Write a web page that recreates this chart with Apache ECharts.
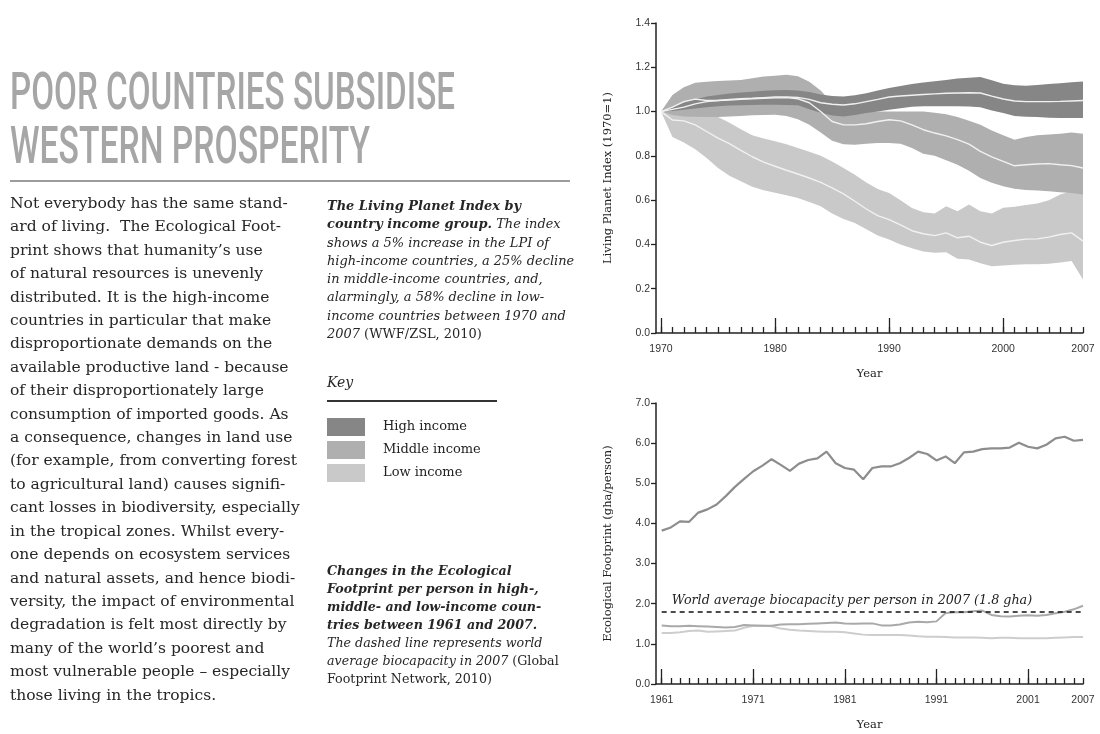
<!DOCTYPE html>
<html>
<head>
<meta charset="utf-8">
<title>Poor countries subsidise western prosperity</title>
<script src="https://cdn.jsdelivr.net/npm/echarts@6/dist/echarts.min.js"></script>
<style>
  html, body { margin: 0; padding: 0; background: #fff; }
  #page { position: relative; width: 1100px; height: 734px; overflow: hidden; }
  #chart { position: absolute; left: 0; top: 0; width: 1100px; height: 734px; }
  .txt { position: absolute; color: #262626; font-family: "DejaVu Serif", Georgia, serif; white-space: nowrap; pointer-events: none; }
  .txt .l { display: inline-block; }
  .up { font-style: normal; }
  #title { left: 10px; top: 65px; font-family: Roboto, "DejaVu Sans", sans-serif; font-weight: 500; font-size: 52px; line-height: 54px; color: #a6a6a6; }
  #title .tl { display: inline-block; transform-origin: 0 0; }
  #rule1 { position: absolute; left: 10px; top: 180px; width: 560px; height: 2px; background: #9c9c9c; }
  #body { left: 10px; top: 192px; font-size: 14.5px; line-height: 23.4px; }
  #cap1 { left: 327px; top: 197px; font-size: 12.5px; line-height: 18.3px; font-style: italic; }
  #cap2 { left: 327px; top: 562px; font-size: 12.5px; line-height: 18px; font-style: italic; }
  #key { left: 327px; top: 373px; font-size: 14px; line-height: 18px; font-style: italic; }
  #rule2 { position: absolute; left: 327px; top: 400px; width: 170px; height: 1.5px; background: #333; }
</style>
</head>
<body>
<div id="page">
  <div id="chart"></div>

  <div id="title" class="txt">
    <div><span class="tl">POOR COUNTRIES SUBSIDISE</span></div>
    <div><span class="tl">WESTERN PROSPERITY</span></div>
  </div>
  <div id="rule1"></div>

  <div id="body" class="txt">
    <div><span class="l">Not everybody has the same stand-</span></div>
    <div><span class="l">ard of living.&nbsp; The Ecological Foot-</span></div>
    <div><span class="l">print shows that humanity’s use</span></div>
    <div><span class="l">of natural resources is unevenly</span></div>
    <div><span class="l">distributed. It is the high-income</span></div>
    <div><span class="l">countries in particular that make</span></div>
    <div><span class="l">disproportionate demands on the</span></div>
    <div><span class="l">available productive land - because</span></div>
    <div><span class="l">of their disproportionately large</span></div>
    <div><span class="l">consumption of imported goods. As</span></div>
    <div><span class="l">a consequence, changes in land use</span></div>
    <div><span class="l">(for example, from converting forest</span></div>
    <div><span class="l">to agricultural land) causes signifi-</span></div>
    <div><span class="l">cant losses in biodiversity, especially</span></div>
    <div><span class="l">in the tropical zones. Whilst every-</span></div>
    <div><span class="l">one depends on ecosystem services</span></div>
    <div><span class="l">and natural assets, and hence biodi-</span></div>
    <div><span class="l">versity, the impact of environmental</span></div>
    <div><span class="l">degradation is felt most directly by</span></div>
    <div><span class="l">many of the world’s poorest and</span></div>
    <div><span class="l">most vulnerable people – especially</span></div>
    <div><span class="l">those living in the tropics.</span></div>
  </div>

  <div id="cap1" class="txt">
    <div><span class="l"><b>The Living Planet Index by</b></span></div>
    <div><span class="l"><b>country income group.</b> The index</span></div>
    <div><span class="l">shows a 5% increase in the LPI of</span></div>
    <div><span class="l">high-income countries, a 25% decline</span></div>
    <div><span class="l">in middle-income countries, and,</span></div>
    <div><span class="l">alarmingly, a 58% decline in low-</span></div>
    <div><span class="l">income countries between 1970 and</span></div>
    <div><span class="l">2007 <span class="up">(WWF/ZSL, 2010)</span></span></div>
  </div>

  <div id="key" class="txt">Key</div>
  <div id="rule2"></div>

  <div id="cap2" class="txt">
    <div><span class="l"><b>Changes in the Ecological</b></span></div>
    <div><span class="l"><b>Footprint per person in high-,</b></span></div>
    <div><span class="l"><b>middle- and low-income coun-</b></span></div>
    <div><span class="l"><b>tries between 1961 and 2007.</b></span></div>
    <div><span class="l">The dashed line represents world</span></div>
    <div><span class="l">average biocapacity in 2007 <span class="up">(Global</span></span></div>
    <div><span class="l"><span class="up">Footprint Network, 2010)</span></span></div>
  </div>
</div>

<script>
// Living Planet Index by income group, 1970 = 1 (lower bound, index, upper bound)
var lpiYears = [1970, 1971, 1972, 1973, 1974, 1975, 1976, 1977, 1978, 1979,
  1980, 1981, 1982, 1983, 1984, 1985, 1986, 1987, 1988, 1989,
  1990, 1991, 1992, 1993, 1994, 1995, 1996, 1997, 1998, 1999,
  2000, 2001, 2002, 2003, 2004, 2005, 2006, 2007];
var lpiMajorTicks = [1970, 1980, 1990, 2000];
var lpiTickLabels = [1970, 1980, 1990, 2000, 2007];

var highLower = [1.0, 1.003, 1.008, 1.014, 1.02, 1.024, 1.027, 1.029, 1.03, 1.031,
  1.031, 1.03, 1.028, 1.01, 0.995, 0.982, 0.978, 0.985, 0.994, 1.0,
  1.008, 1.015, 1.022, 1.024, 1.024, 1.024, 1.024, 1.023, 1.02, 1.005,
  0.994, 0.98, 0.977, 0.975, 0.972, 0.971, 0.971, 0.971];
var highIndex = [1.0, 1.01, 1.02, 1.035, 1.045, 1.05, 1.055, 1.058, 1.06, 1.063,
  1.066, 1.066, 1.064, 1.055, 1.04, 1.033, 1.03, 1.035, 1.045, 1.055,
  1.066, 1.07, 1.074, 1.077, 1.08, 1.083, 1.084, 1.085, 1.084, 1.07,
  1.057, 1.048, 1.045, 1.045, 1.045, 1.046, 1.048, 1.05];
var highUpper = [1.0, 1.02, 1.04, 1.055, 1.068, 1.075, 1.082, 1.086, 1.09, 1.094,
  1.096, 1.097, 1.095, 1.088, 1.077, 1.07, 1.068, 1.074, 1.083, 1.095,
  1.106, 1.115, 1.125, 1.131, 1.137, 1.143, 1.149, 1.153, 1.156, 1.142,
  1.126, 1.119, 1.117, 1.12, 1.124, 1.128, 1.132, 1.136];

var middleLower = [1.0, 0.985, 0.978, 0.977, 0.976, 0.976, 0.978, 0.98, 0.983, 0.985,
  0.986, 0.98, 0.965, 0.94, 0.905, 0.868, 0.852, 0.85, 0.855, 0.858,
  0.858, 0.855, 0.835, 0.81, 0.8, 0.78, 0.76, 0.733, 0.7, 0.678,
  0.663, 0.652, 0.646, 0.644, 0.64, 0.636, 0.632, 0.625];
var middleIndex = [1.0, 1.02, 1.045, 1.056, 1.05, 1.05, 1.052, 1.055, 1.058, 1.06,
  1.062, 1.063, 1.058, 1.04, 1.0, 0.955, 0.94, 0.94, 0.945, 0.955,
  0.963, 0.958, 0.94, 0.918, 0.903, 0.89, 0.873, 0.853, 0.82, 0.795,
  0.775, 0.755, 0.76, 0.763, 0.765, 0.76, 0.756, 0.745];
var middleUpper = [1.0, 1.075, 1.11, 1.13, 1.135, 1.138, 1.14, 1.143, 1.15, 1.158,
  1.162, 1.166, 1.16, 1.135, 1.095, 1.04, 1.0, 1.0, 1.0, 1.0,
  1.0, 1.0, 1.0, 1.0, 0.995, 0.988, 0.975, 0.958, 0.94, 0.915,
  0.893, 0.873, 0.885, 0.893, 0.897, 0.9, 0.905, 0.9];

var lowLower = [1.0, 0.885, 0.86, 0.83, 0.79, 0.745, 0.71, 0.685, 0.66, 0.645,
  0.633, 0.622, 0.61, 0.592, 0.572, 0.54, 0.515, 0.497, 0.468, 0.44,
  0.422, 0.4, 0.383, 0.368, 0.362, 0.365, 0.335, 0.332, 0.315, 0.302,
  0.305, 0.308, 0.31, 0.31, 0.313, 0.318, 0.325, 0.242];
var lowIndex = [1.0, 0.962, 0.958, 0.94, 0.91, 0.88, 0.855, 0.825, 0.796, 0.772,
  0.753, 0.735, 0.718, 0.7, 0.68, 0.655, 0.628, 0.595, 0.56, 0.53,
  0.512, 0.488, 0.462, 0.448, 0.44, 0.452, 0.43, 0.437, 0.41, 0.395,
  0.41, 0.418, 0.424, 0.425, 0.433, 0.445, 0.452, 0.415];
var lowUpper = [1.0, 0.99, 0.985, 0.982, 0.98, 0.976, 0.95, 0.92, 0.893, 0.878,
  0.866, 0.852, 0.835, 0.818, 0.8, 0.775, 0.745, 0.715, 0.68, 0.65,
  0.632, 0.6, 0.565, 0.545, 0.54, 0.572, 0.55, 0.58, 0.55, 0.54,
  0.566, 0.57, 0.578, 0.585, 0.6, 0.625, 0.64, 0.648];

// Ecological Footprint per person (gha), 1961-2007
var efYears = [1961, 1962, 1963, 1964, 1965, 1966, 1967, 1968, 1969, 1970,
  1971, 1972, 1973, 1974, 1975, 1976, 1977, 1978, 1979, 1980,
  1981, 1982, 1983, 1984, 1985, 1986, 1987, 1988, 1989, 1990,
  1991, 1992, 1993, 1994, 1995, 1996, 1997, 1998, 1999, 2000,
  2001, 2002, 2003, 2004, 2005, 2006, 2007];
var efMajorTicks = [1961, 1971, 1981, 1991, 2001];
var efTickLabels = [1961, 1971, 1981, 1991, 2001, 2007];

var efHigh = [3.82, 3.90, 4.05, 4.04, 4.27, 4.35, 4.47, 4.68, 4.91, 5.11,
  5.30, 5.44, 5.60, 5.46, 5.31, 5.49, 5.58, 5.62, 5.79, 5.50,
  5.38, 5.34, 5.10, 5.38, 5.42, 5.42, 5.50, 5.63, 5.79, 5.73,
  5.57, 5.67, 5.50, 5.77, 5.79, 5.85, 5.87, 5.87, 5.89, 6.01,
  5.91, 5.87, 5.96, 6.12, 6.16, 6.06, 6.08];
var efMiddle = [1.46, 1.44, 1.44, 1.45, 1.44, 1.43, 1.42, 1.41, 1.42, 1.47,
  1.46, 1.45, 1.45, 1.48, 1.49, 1.49, 1.50, 1.51, 1.52, 1.53,
  1.51, 1.50, 1.51, 1.51, 1.46, 1.46, 1.48, 1.53, 1.55, 1.54,
  1.56, 1.77, 1.79, 1.79, 1.81, 1.83, 1.72, 1.69, 1.68, 1.70,
  1.71, 1.70, 1.72, 1.76, 1.80, 1.86, 1.95];
var efLow = [1.27, 1.27, 1.29, 1.32, 1.33, 1.30, 1.31, 1.32, 1.33, 1.40,
  1.45, 1.45, 1.44, 1.38, 1.35, 1.33, 1.32, 1.31, 1.30, 1.30,
  1.29, 1.26, 1.23, 1.22, 1.22, 1.22, 1.22, 1.21, 1.19, 1.18,
  1.18, 1.17, 1.16, 1.16, 1.16, 1.15, 1.14, 1.15, 1.15, 1.14,
  1.14, 1.14, 1.14, 1.15, 1.16, 1.17, 1.17];
var worldBiocapacity = 1.8;

var groupNames = ['High income', 'Middle income', 'Low income'];
var groupColors = { 'High income': '#868686', 'Middle income': '#afafaf', 'Low income': '#c9c9c9' };
var efLineColors = { 'High income': '#8d8d8d', 'Middle income': '#a9a9a9', 'Low income': '#cdcdcd' };

// ---- text fitting (layout only) ----
function fitFont(block, lineIdx, target) {
  var sp = block.querySelectorAll('.l')[lineIdx];
  var fs = parseFloat(getComputedStyle(block).fontSize);
  block.style.fontSize = (fs * target / sp.getBoundingClientRect().width) + 'px';
}
var tls = document.querySelectorAll('#title .tl');
[445, 360].forEach(function (w, i) {
  tls[i].style.transform = 'scaleX(' + (w / tls[i].getBoundingClientRect().width) + ')';
});
fitFont(document.getElementById('body'), 0, 278);
fitFont(document.getElementById('cap1'), 7, 155);
fitFont(document.getElementById('cap2'), 6, 165);

var serif = '"DejaVu Serif", Georgia, serif';
var bioLabel = 'World average biocapacity per person in 2007 (1.8 gha)';
var ctx = document.createElement('canvas').getContext('2d');
ctx.font = 'italic 13px "DejaVu Serif"';
var bioFontSize = 13 * 361 / ctx.measureText(bioLabel).width;

// ---- chart ----
var axisColor = '#222';
var tickLabel = { fontFamily: '"Liberation Sans", Arial, sans-serif', fontSize: 10.5, color: '#333' };
var nameStyle = { fontFamily: serif, fontSize: 11.5, color: '#222' };

function pairs(xs, ys) {
  return xs.map(function (x, i) { return [x, ys[i]]; });
}
function rows(xs, lo, hi) {
  return xs.map(function (x, i) { return [x, lo[i], hi[i]]; });
}

function bandSeries(name, lo, hi) {
  var color = groupColors[name];
  return {
    name: name,
    type: 'custom',
    xAxisIndex: 0,
    yAxisIndex: 0,
    data: rows(lpiYears, lo, hi),
    encode: { x: 0, y: [1, 2] },
    itemStyle: { color: color },
    silent: true,
    renderItem: function (params, api) {
      if (params.dataIndexInside !== 0) return null;
      var top = [], bottom = [];
      for (var i = 0; i < params.dataInsideLength; i++) {
        top.push(api.coord([api.value(0, i), api.value(2, i)]));
        bottom.push(api.coord([api.value(0, i), api.value(1, i)]));
      }
      return {
        type: 'polygon',
        shape: { points: top.concat(bottom.reverse()) },
        style: { fill: color }
      };
    }
  };
}

function indexLine(name, values) {
  return {
    name: name, type: 'line', xAxisIndex: 0, yAxisIndex: 0,
    data: pairs(lpiYears, values), symbol: 'none', silent: true,
    lineStyle: { color: '#f1f1f1', width: 1.4 },
    emphasis: { disabled: true }
  };
}

function efLine(name, values, width) {
  return {
    name: name, type: 'line', xAxisIndex: 2, yAxisIndex: 1,
    data: pairs(efYears, values), symbol: 'none', silent: true,
    lineStyle: { color: efLineColors[name], width: width },
    emphasis: { disabled: true }
  };
}

function minorAxis(grid, min, years) {
  return {
    gridIndex: grid, type: 'value', min: min, max: 2007, position: 'bottom',
    axisLine: { show: true, lineStyle: { color: axisColor, width: 1.5 } },
    axisTick: { show: true, inside: true, length: 6, customValues: years, lineStyle: { color: axisColor, width: 1.3 } },
    axisLabel: { show: false },
    splitLine: { show: false }
  };
}
function majorAxis(grid, min, majors, labels) {
  return {
    gridIndex: grid, type: 'value', min: min, max: 2007, position: 'bottom',
    axisLine: { show: false },
    axisTick: { show: true, inside: true, length: 15, customValues: majors, lineStyle: { color: axisColor, width: 1.3 } },
    axisLabel: Object.assign({ customValues: labels, margin: 11, formatter: function (v) { return String(v); } }, tickLabel),
    splitLine: { show: false },
    name: 'Year', nameLocation: 'middle', nameGap: 35, nameTextStyle: nameStyle, nameMoveOverlap: false
  };
}
function valueAxis(grid, max, step, name) {
  return {
    gridIndex: grid, type: 'value', min: 0, max: max, interval: step,
    axisLine: { show: true, lineStyle: { color: axisColor, width: 1.5 } },
    axisTick: { show: true, length: 5, lineStyle: { color: axisColor, width: 1.3 } },
    axisLabel: Object.assign({ margin: 6, formatter: function (v) { return v.toFixed(1); } }, tickLabel),
    splitLine: { show: false },
    name: name, nameLocation: 'middle', nameGap: 42, nameTextStyle: nameStyle, nameMoveOverlap: false
  };
}

var chart = echarts.init(document.getElementById('chart'));
chart.setOption({
  animation: false,
  grid: [
    { left: 656, top: 23, width: 427, height: 310, outerBoundsMode: 'none' },
    { left: 656, top: 403, width: 427, height: 281, outerBoundsMode: 'none' }
  ],
  legend: {
    left: 327, top: 418, padding: 0, orient: 'vertical', icon: 'rect',
    itemWidth: 38, itemHeight: 18, itemGap: 5, selectedMode: false,
    textStyle: { fontFamily: serif, fontSize: 13, color: '#222', padding: [0, 0, 0, 13] },
    data: groupNames.map(function (n) { return { name: n, itemStyle: { color: groupColors[n] } }; })
  },
  xAxis: [
    minorAxis(0, 1969.56, lpiYears),
    majorAxis(0, 1969.56, lpiMajorTicks, lpiTickLabels),
    minorAxis(1, 1960.38, efYears),
    majorAxis(1, 1960.38, efMajorTicks, efTickLabels)
  ],
  yAxis: [
    valueAxis(0, 1.4, 0.2, 'Living Planet Index (1970=1)'),
    valueAxis(1, 7, 1, 'Ecological Footprint (gha/person)')
  ],
  series: [
    bandSeries('Low income', lowLower, lowUpper),
    bandSeries('Middle income', middleLower, middleUpper),
    bandSeries('High income', highLower, highUpper),
    indexLine('Low income', lowIndex),
    indexLine('Middle income', middleIndex),
    indexLine('High income', highIndex),
    efLine('Low income', efLow, 2),
    efLine('Middle income', efMiddle, 2),
    efLine('High income', efHigh, 2.2),
    {
      name: 'World average biocapacity', type: 'line', xAxisIndex: 2, yAxisIndex: 1, data: [],
      markLine: {
        silent: true, symbol: ['none', 'none'], animation: false,
        lineStyle: { type: [5, 4], color: '#111', width: 1.5 },
        label: {
          show: true, position: 'insideStartTop', distance: [10, 5],
          formatter: bioLabel, fontFamily: serif, fontStyle: 'italic',
          fontSize: bioFontSize, color: '#222'
        },
        data: [[
          { coord: [efYears[0], worldBiocapacity] },
          { coord: [efYears[efYears.length - 1], worldBiocapacity] }
        ]]
      }
    }
  ]
});
</script>
</body>
</html>
